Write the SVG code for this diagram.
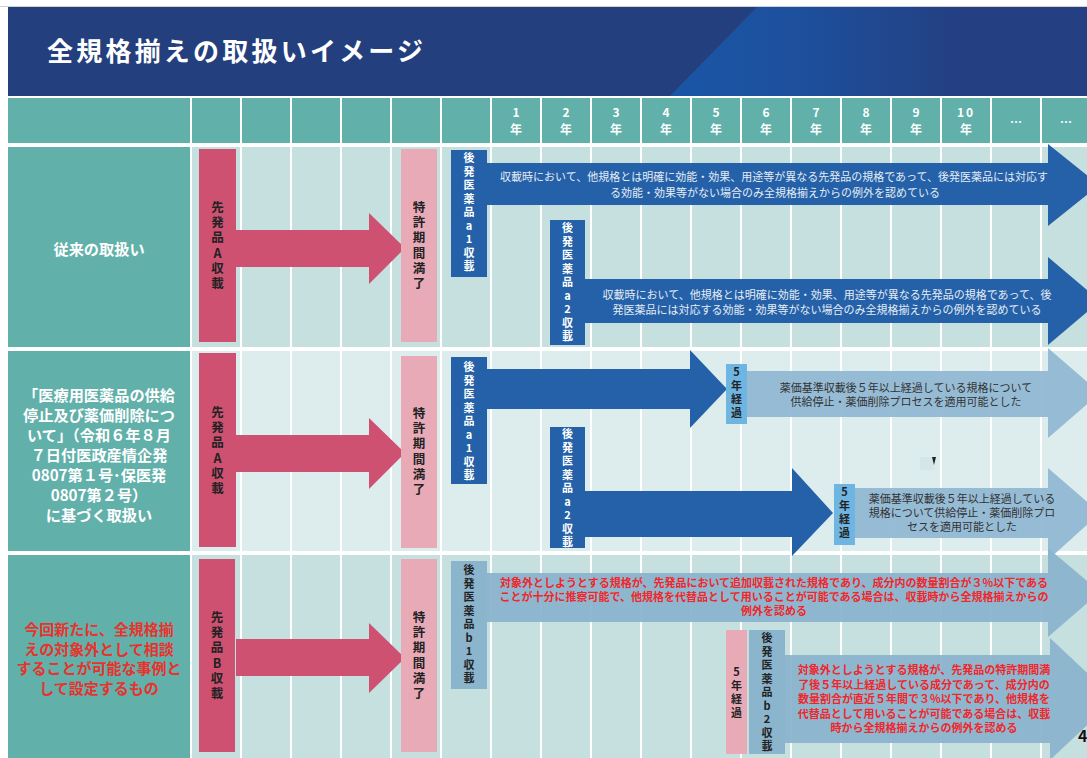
<svg xmlns="http://www.w3.org/2000/svg" width="1087" height="758" viewBox="0 0 1087 758">
<defs>
<linearGradient id="hl" gradientUnits="userSpaceOnUse" x1="680" y1="0" x2="960" y2="0">
<stop offset="0" stop-color="#1a56a6"/>
<stop offset="0.45" stop-color="#1d4f9c"/>
<stop offset="1" stop-color="#243f82"/>
</linearGradient>
</defs>
<style>
.jp{font-family:"Noto Sans CJK JP","Noto Sans",sans-serif}
.title{font-size:26px;font-weight:bold;fill:#ffffff}
.yr{font-size:12px;font-weight:bold;fill:#ffffff;text-anchor:middle;dominant-baseline:central}
.lab{font-size:15.2px;font-weight:bold;fill:#ffffff;text-anchor:middle;dominant-baseline:central}
.labr{font-size:15px;font-weight:bold;fill:#e8322c;text-anchor:middle;dominant-baseline:central}
.v{writing-mode:vertical-rl;text-orientation:upright;font-weight:bold}
.vk{font-size:12.5px;fill:#222222;letter-spacing:2.7px}
.vw{font-size:11px;fill:#ffffff;letter-spacing:2.5px}
.vd{font-size:11px;fill:#222222;letter-spacing:2.5px}
.tw{font-size:11px;fill:#e4ecf5;text-anchor:middle;dominant-baseline:central}
.td{font-size:11px;fill:#333333;text-anchor:middle;dominant-baseline:central}
.tr{font-size:11px;font-weight:bold;fill:#f0262a;text-anchor:middle;dominant-baseline:central}
.red{fill:#cf5171}
.pink{fill:#e9aab8}
.dblue{fill:#2461a8}
.lblue{fill:#6fb5e2}
.steel{fill:#8bb4cd}
.light{fill:#8fb6d3;opacity:0.92}
.grid{stroke:#ffffff;stroke-width:2}
</style>
<rect x="0" y="0" width="1087" height="758" fill="#ffffff"/>
<line x1="0" y1="6.5" x2="1087" y2="6.5" stroke="#d0d0d0" stroke-width="1"/>

<g id="title-band">
<rect x="8" y="7" width="1079" height="89" fill="#243f7d"/>
<polygon points="757,7 1087,7 1087,96 670,96" fill="url(#hl)"/>
<text class="jp title" x="47" y="61" textLength="376" lengthAdjust="spacing">全規格揃えの取扱いイメージ</text>
</g>

<g id="table-bg">
<rect x="8" y="98" width="1079" height="45" fill="#62b0aa"/>
<rect x="8" y="147" width="182" height="200" fill="#62b0aa"/>
<rect x="192" y="147" width="895" height="200" fill="#c6dfdf"/>
<rect x="8" y="351" width="182" height="200" fill="#62b0aa"/>
<rect x="192" y="351" width="895" height="200" fill="#ddecec"/>
<rect x="8" y="555" width="182" height="203" fill="#62b0aa"/>
<rect x="192" y="555" width="895" height="203" fill="#c6dfdf"/>
<g class="grid">
<line x1="191" y1="98" x2="191" y2="758"/>
<line x1="241" y1="98" x2="241" y2="758"/>
<line x1="291" y1="98" x2="291" y2="758"/>
<line x1="341" y1="98" x2="341" y2="758"/>
<line x1="391" y1="98" x2="391" y2="758"/>
<line x1="441" y1="98" x2="441" y2="758"/>
<line x1="491" y1="98" x2="491" y2="758"/>
<line x1="541" y1="98" x2="541" y2="758"/>
<line x1="591" y1="98" x2="591" y2="758"/>
<line x1="641" y1="98" x2="641" y2="758"/>
<line x1="691" y1="98" x2="691" y2="758"/>
<line x1="741" y1="98" x2="741" y2="758"/>
<line x1="791" y1="98" x2="791" y2="758"/>
<line x1="841" y1="98" x2="841" y2="758"/>
<line x1="891" y1="98" x2="891" y2="758"/>
<line x1="941" y1="98" x2="941" y2="758"/>
<line x1="991" y1="98" x2="991" y2="758"/>
<line x1="1041" y1="98" x2="1041" y2="758"/>
</g>
</g>

<g id="year-header" class="jp">
<text class="yr" x="516" y="111">1</text><text class="yr" x="516" y="128">年</text>
<text class="yr" x="566" y="111">2</text><text class="yr" x="566" y="128">年</text>
<text class="yr" x="616" y="111">3</text><text class="yr" x="616" y="128">年</text>
<text class="yr" x="666" y="111">4</text><text class="yr" x="666" y="128">年</text>
<text class="yr" x="716" y="111">5</text><text class="yr" x="716" y="128">年</text>
<text class="yr" x="766" y="111">6</text><text class="yr" x="766" y="128">年</text>
<text class="yr" x="816" y="111">7</text><text class="yr" x="816" y="128">年</text>
<text class="yr" x="866" y="111">8</text><text class="yr" x="866" y="128">年</text>
<text class="yr" x="916" y="111">9</text><text class="yr" x="916" y="128">年</text>
<text class="yr" x="966" y="111" letter-spacing="2">10</text><text class="yr" x="966" y="128">年</text>
<text class="yr" x="1016" y="121" font-size="9">…</text>
<text class="yr" x="1066" y="121" font-size="9">…</text>
</g>

<g id="label-row1" class="jp"><text class="lab" x="99" y="248" font-size="16">従来の取扱い</text></g>
<g id="label-row2" class="jp">
<text class="lab"><tspan x="99" y="394">「医療用医薬品の供給</tspan><tspan x="99" y="414">停止及び薬価削除につ</tspan><tspan x="99" y="434">いて」（令和６年８月</tspan><tspan x="99" y="454">７日付医政産情企発</tspan><tspan x="99" y="474">0807第１号･保医発</tspan><tspan x="99" y="494">0807第２号）</tspan><tspan x="99" y="514">に基づく取扱い</tspan></text>
</g>
<g id="label-row3" class="jp">
<text class="labr"><tspan x="99" y="628">今回新たに、全規格揃</tspan><tspan x="99" y="647.7">えの対象外として相談</tspan><tspan x="99" y="667.4">することが可能な事例と</tspan><tspan x="99" y="687.1">して設定するもの</tspan></text>
</g>

<g id="connectors">
<g id="arrow-r1-red"><polygon class="red" points="236,230 369,230 369,213 405,248 369,284 369,267 236,267"/></g>
<g id="arrow-r2-red"><polygon class="red" points="236,435 369,435 369,418 405,453 369,489 369,472 236,472"/></g>
<g id="arrow-r3-red"><polygon class="red" points="236,639 369,639 369,623 405,658 369,693 369,676 236,676"/></g>

<g id="arrow-r1-a1">
<polygon class="dblue" points="487,163 1048,163 1048,144 1099,185 1048,226 1048,205 487,205"/>
<text class="jp tw"><tspan x="774" y="176">収載時において、他規格とは明確に効能・効果、用途等が異なる先発品の規格であって、後発医薬品には対応す</tspan><tspan x="775" y="192">る効能・効果等がない場合のみ全規格揃えからの例外を認めている</tspan></text>
</g>
<g id="arrow-r1-a2">
<polygon class="dblue" points="585,279 1048,279 1048,257 1100,301 1048,345 1048,323 585,323"/>
<text class="jp tw"><tspan x="827" y="294">収載時において、他規格とは明確に効能・効果、用途等が異なる先発品の規格であって、後</tspan><tspan x="827" y="309">発医薬品には対応する効能・効果等がない場合のみ全規格揃えからの例外を認めている</tspan></text>
</g>

<g id="arrow-r2-a1"><polygon class="dblue" points="487,369 690,369 690,350 727,389 690,428 690,409 487,409"/></g>
<g id="arrow-r2-light1">
<polygon class="light" points="747,371 1048,371 1048,348 1100,393 1048,438 1048,417 747,417"/>
<text class="jp td"><tspan x="906" y="387">薬価基準収載後５年以上経過している規格について</tspan><tspan x="906" y="401">供給停止・薬価削除プロセスを適用可能とした</tspan></text>
</g>
<g id="arrow-r2-a2"><polygon class="dblue" points="585,491 792,491 792,468 833,513 792,556 792,537 585,537"/></g>
<g id="arrow-r2-light2">
<polygon class="light" points="855,488 1048,488 1048,468 1100,513 1048,560 1048,538 855,538"/>
<text class="jp td"><tspan x="962" y="498">薬価基準収載後５年以上経過している</tspan><tspan x="962" y="512">規格について供給停止・薬価削除プロ</tspan><tspan x="962" y="526">セスを適用可能とした</tspan></text>
</g>

<g id="arrow-r3-b1">
<polygon class="steel" opacity="0.95" points="487,573 1048,573 1048,548 1100,592 1048,637 1048,622 487,622"/>
<text class="jp tr"><tspan x="774" y="582">対象外としようとする規格が、先発品において追加収載された規格であり、成分内の数量割合が３%以下である</tspan><tspan x="774" y="596">ことが十分に推察可能で、他規格を代替品として用いることが可能である場合は、収載時から全規格揃えからの</tspan><tspan x="774" y="610">例外を認める</tspan></text>
</g>
<g id="arrow-r3-b2">
<polygon class="steel" opacity="0.95" points="785,655 1050,655 1050,638 1115,699 1050,760 1050,743 785,743"/>
<text class="jp tr"><tspan x="924" y="669">対象外としようとする規格が、先発品の特許期間満</tspan><tspan x="924" y="684">了後５年以上経過している成分であって、成分内の</tspan><tspan x="924" y="698">数量割合が直近５年間で３%以下であり、他規格を</tspan><tspan x="924" y="713">代替品として用いることが可能である場合は、収載</tspan><tspan x="924" y="727">時から全規格揃えからの例外を認める</tspan></text>
</g>
</g>

<g id="node-r1-senpatsu">
<rect class="red" x="199" y="149" width="37" height="193"/>
<text class="jp v vk" x="217.5" y="201">先発品A収載</text>
</g>
<g id="node-r1-patent">
<rect class="pink" x="401" y="149" width="36" height="193"/>
<text class="jp v vk" x="419" y="201">特許期間満了</text>
</g>
<g id="node-r1-a1">
<rect class="dblue" x="451" y="150" width="36" height="127"/>
<text class="jp v vw" x="469" y="152.5">後発医薬品a1収載</text>
</g>
<g id="node-r1-a2">
<rect class="dblue" x="550" y="220" width="35" height="125"/>
<text class="jp v vw" x="567.5" y="222.5">後発医薬品a2収載</text>
</g>

<g id="node-r2-senpatsu">
<rect class="red" x="199" y="353" width="37" height="194"/>
<text class="jp v vk" x="217.5" y="406">先発品A収載</text>
</g>
<g id="node-r2-patent">
<rect class="pink" x="401" y="356" width="36" height="192"/>
<text class="jp v vk" x="419" y="407">特許期間満了</text>
</g>
<g id="node-r2-a1">
<rect class="dblue" x="451" y="357" width="36" height="127"/>
<text class="jp v vw" x="469" y="361.5" letter-spacing="2.1">後発医薬品a1収載</text>
</g>
<g id="node-r2-5y-1">
<rect class="lblue" x="726" y="364" width="21" height="60"/>
<text class="jp v vd" x="736.5" y="366.5" letter-spacing="2.7">5年経過</text>
</g>
<g id="node-r2-a2">
<rect class="dblue" x="550" y="427" width="35" height="121"/>
<text class="jp v vw" x="567.5" y="428.5">後発医薬品a2収載</text>
</g>
<g id="node-r2-5y-2">
<rect class="lblue" x="834" y="484" width="21" height="61"/>
<text class="jp v vd" x="844.5" y="486.5" letter-spacing="2.7">5年経過</text>
</g>
<g id="mark">
<rect x="920" y="457" width="14" height="13" fill="#d3e6ea"/>
<path d="M932,457 L936,457 L934,465 Z" fill="#222222"/>
</g>

<g id="node-r3-senpatsu">
<rect class="red" x="199" y="559" width="36" height="193"/>
<text class="jp v vk" x="217" y="611">先発品B収載</text>
</g>
<g id="node-r3-patent">
<rect class="pink" x="401" y="559" width="36" height="193"/>
<text class="jp v vk" x="419" y="611">特許期間満了</text>
</g>
<g id="node-r3-b1">
<rect class="steel" x="451" y="561" width="36" height="128"/>
<text class="jp v vd" x="469" y="564.5" letter-spacing="2.4">後発医薬品b1収載</text>
</g>
<g id="node-r3-5y">
<rect class="pink" x="726" y="630" width="21" height="124"/>
<text class="jp v vd" x="736.5" y="666.5" letter-spacing="2.7">5年経過</text>
</g>
<g id="node-r3-b2">
<rect class="steel" x="749" y="630" width="36" height="124"/>
<text class="jp v vd" x="767" y="632.5" letter-spacing="2.4">後発医薬品b2収載</text>
</g>

<g id="page-number"><text class="jp" x="1078" y="742" font-size="16" font-weight="bold" fill="#111111">4</text></g>
</svg>
